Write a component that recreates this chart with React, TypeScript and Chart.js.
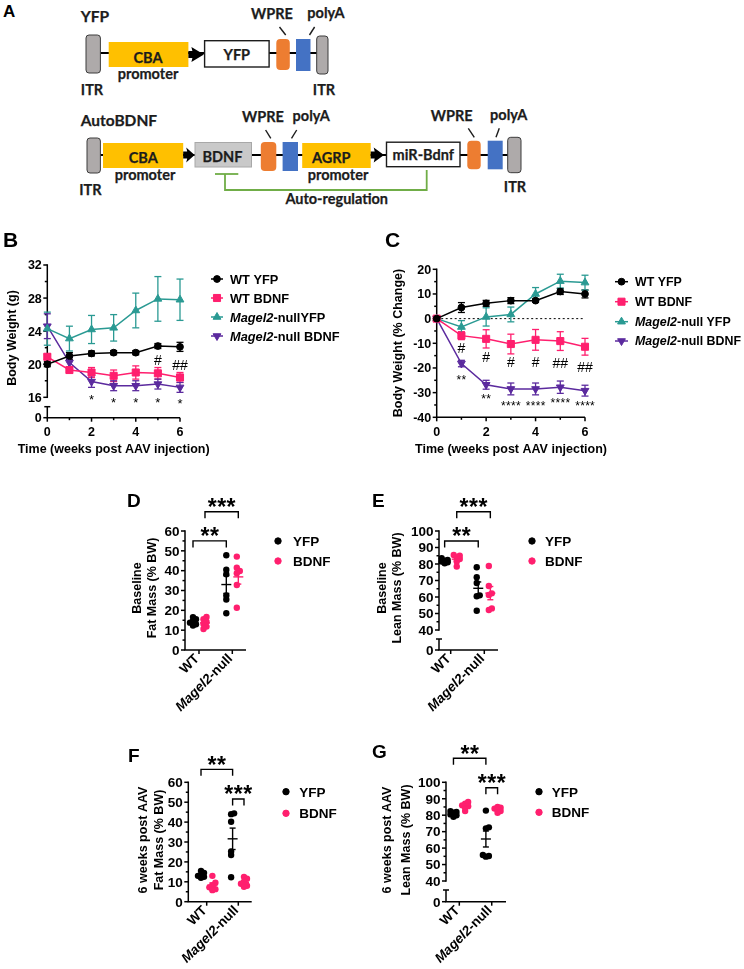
import React, { useEffect, useRef } from "react";
import { Chart, registerables } from "chart.js";
Chart.register(...registerables);

const W = 744;
const H = 969;
const SANS = '"Liberation Sans", Arial, Helvetica, sans-serif';
const LATO_F = 'Lato, "Open Sans", sans-serif';

const BLACK = "#000000";
const PINK = "#FF1F6E";
const TEAL = "#2A9A93";
const PURPLE = "#5B2A9E";

// ---------------- Panels B & C data ----------------
const weeks = [0, 1, 2, 3, 4, 5, 6];
const weekTicks = [0, 2, 4, 6];
const weekTickLabels = ["0", "2", "4", "6"];
const weekMinor = [1, 3, 5];

// Body weight (g), mean and SEM
const bwWtYfp = [20.0, 21.0, 21.3, 21.4, 21.4, 22.2, 22.1];
const bwWtYfpSem = [0.3, 0.4, 0.3, 0.25, 0.25, 0.3, 0.55];
const bwWtBdnf = [20.9, 19.3, 19.0, 18.6, 19.0, 18.9, 18.4];
const bwWtBdnfSem = [0.3, 0.3, 0.6, 0.7, 0.8, 0.7, 0.6];
const bwMgYfp = [24.3, 23.1, 24.2, 24.4, 26.5, 27.9, 27.8];
const bwMgYfpSem = [2.0, 1.5, 1.7, 1.6, 2.1, 2.7, 2.5];
const bwMgBdnf = [24.6, 20.2, 17.9, 17.4, 17.4, 17.6, 17.2];
const bwMgBdnfSem = [1.5, 0.6, 0.7, 0.6, 0.6, 0.6, 0.6];

const bwTicks = [16, 20, 24, 28, 32];
const bwTickLabels = ["16", "20", "24", "28", "32"];
const bwMinor = [18, 22, 26, 30];
const bwLowLabel = "0";

// Body weight (% change)
const pcWtYfp = [0, 4.5, 6.2, 7.3, 7.3, 11.0, 10.0];
const pcWtYfpSem = [0, 2.0, 1.2, 1.2, 0.7, 1.2, 1.6];
const pcWtBdnf = [0, -6.9, -8.2, -10.3, -8.6, -9.1, -11.4];
const pcWtBdnfSem = [0, 1.6, 3.7, 4.0, 4.2, 3.8, 3.4];
const pcMgYfp = [0, -3.4, 0.7, 1.7, 10.0, 15.2, 14.6];
const pcMgYfpSem = [0, 2.6, 3.7, 3.0, 2.6, 2.8, 3.0];
const pcMgBdnf = [0, -18.2, -26.8, -28.5, -28.5, -27.8, -29.2];
const pcMgBdnfSem = [0, 1.3, 1.8, 2.4, 2.4, 2.5, 2.2];

const pcTicks = [-40, -30, -20, -10, 0, 10, 20];
const pcTickLabels = ["-40", "-30", "-20", "-10", "0", "10", "20"];
const pcMinor = [-35, -25, -15, -5, 5, 15];

// significance marks (week, label, value level)
const bStarWeeks = [2, 3, 4, 5, 6];
const bStarLabels = ["*", "*", "*", "*", "*"];
const bStarLevels = [16.05, 15.7, 15.7, 15.7, 15.65];
const bHashWeeks = [5, 6];
const bHashLabels = ["#", "##"];
const bHashLevels = [20.5, 19.9];

const cHashWeeks = [1, 2, 3, 4, 5, 6];
const cHashLabels = ["#", "#", "#", "#", "##", "##"];
const cHashLevels = [-12.0, -15.4, -17.7, -17.7, -18.1, -19.5];
const cStarWeeks = [1, 2, 3, 4, 5, 6];
const cStarLabels = ["**", "**", "****", "****", "****", "****"];
const cStarLevels = [-23.5, -31.6, -34.1, -34.1, -33.0, -34.1];

// ---------------- Panels D–G data ----------------
const dotCats = ["WT", "Magel2-null"];
const dotLegendLabels = ["YFP", "BDNF"];

const fatBaseWtYfp = [16.6, 15.5, 14.6, 13.8, 13.0, 12.3];
const fatBaseWtBdnf = [16.7, 15.5, 14.3, 13.1, 11.8, 10.6];
const fatBaseMgYfp = [47.8, 40.5, 38.2, 27.5, 25.5, 18.5];
const fatBaseMgBdnf = [47.1, 41.5, 39.8, 38.7, 32.8, 21.3];

const leanBaseWtYfp = [83.5, 82.5, 82.0, 81.5, 81.0, 80.5];
const leanBaseWtBdnf = [85.5, 85.0, 84.0, 83.0, 81.5, 78.5];
const leanBaseMgYfp = [78.0, 72.0, 68.5, 61.0, 60.5, 51.7];
const leanBaseMgBdnf = [78.8, 66.7, 62.2, 61.2, 53.1, 52.1];

const fat6WtYfp = [15.5, 14.5, 13.5, 13.0, 12.5, 12.0];
const fat6WtBdnf = [13.0, 9.5, 8.3, 7.2, 6.3, 5.8];
const fat6MgYfp = [44.4, 44.0, 40.2, 25.2, 23.5, 12.3];
const fat6MgBdnf = [12.5, 11.5, 10.0, 9.0, 8.0, 7.5];

const lean6WtYfp = [82.5, 82.0, 81.5, 80.5, 80.0, 79.0];
const lean6WtBdnf = [88.0, 87.0, 86.0, 85.5, 84.5, 82.5];
const lean6MgYfp = [82.8, 72.6, 72.0, 55.8, 54.8, 55.2];
const lean6MgBdnf = [85.0, 84.5, 84.0, 83.5, 82.5, 81.5];

const fatTicks = [0, 10, 20, 30, 40, 50, 60];
const fatTickLabels = ["0", "10", "20", "30", "40", "50", "60"];
const fatMinor = [5, 15, 25, 35, 45, 55];
const leanTicks = [40, 50, 60, 70, 80, 90, 100];
const leanTickLabels = ["40", "50", "60", "70", "80", "90", "100"];
const leanMinor = [45, 55, 65, 75, 85, 95];
const leanLowLabel = "0";

// ---------------- drawing helpers ----------------
type Part = { t: string; i?: boolean };
const P = (s: string): Part[] => [{ t: s }];
const MAGEL = (rest: string): Part[] => [{ t: "Magel2", i: true }, { t: rest }];
const catLabelParts: Part[][] = [P(dotCats[0]), MAGEL(dotCats[1].replace("Magel2", ""))];

function fnt(size: number, italic?: boolean, bold = true) {
  return `${italic ? "italic " : ""}${bold ? "bold " : ""}${size}px ${SANS}`;
}
function seg(ctx: any, x1: number, y1: number, x2: number, y2: number) {
  ctx.beginPath();
  ctx.moveTo(x1, y1);
  ctx.lineTo(x2, y2);
  ctx.stroke();
}
function txt(ctx: any, parts: Part[] | string, x: number, y: number, size: number, o: any = {}) {
  const ps: Part[] = typeof parts === "string" ? [{ t: parts }] : parts;
  const bold = o.bold ?? true;
  ctx.save();
  ctx.translate(x, y);
  if (o.rot) ctx.rotate(o.rot);
  ctx.fillStyle = o.color ?? "#000";
  ctx.textBaseline = "alphabetic";
  ctx.textAlign = "left";
  const ls = o.ls ?? 0;
  if ("letterSpacing" in ctx) ctx.letterSpacing = `${ls}px`;
  let w = 0;
  for (const p of ps) {
    ctx.font = fnt(size, p.i, bold);
    w += ctx.measureText(p.t).width;
  }
  w -= ls;
  let cx = o.align === "left" ? 0 : o.align === "right" ? -w : -w / 2;
  const by = (o.v ?? 0.358) * size;
  for (const p of ps) {
    ctx.font = fnt(size, p.i, bold);
    ctx.fillText(p.t, cx, by);
    cx += ctx.measureText(p.t).width;
  }
  ctx.restore();
}
function drawMarker(ctx: any, style: string, x: number, y: number, r: number, rot: number, color: string) {
  ctx.save();
  ctx.fillStyle = color;
  ctx.strokeStyle = color;
  ctx.lineWidth = 1;
  ctx.beginPath();
  if (style === "circle") ctx.arc(x, y, r, 0, Math.PI * 2);
  else if (style === "rect") {
    const s = r * Math.SQRT1_2;
    ctx.rect(x - s, y - s, 2 * s, 2 * s);
  } else {
    let a = (rot * Math.PI) / 180;
    ctx.moveTo(x + Math.sin(a) * r, y - Math.cos(a) * r);
    a += (2 * Math.PI) / 3;
    ctx.lineTo(x + Math.sin(a) * r, y - Math.cos(a) * r);
    a += (2 * Math.PI) / 3;
    ctx.lineTo(x + Math.sin(a) * r, y - Math.cos(a) * r);
    ctx.closePath();
  }
  ctx.fill();
  ctx.stroke();
  ctx.restore();
}

type YAxisSpec = {
  ticks: number[];
  labels: string[];
  minor: number[];
  size: number;
  breakVal?: number;
  lowTopPx?: number;
  lowLabel?: string;
};
function drawYAxis(ctx: any, chart: any, s: YAxisSpec) {
  const { left, bottom } = chart.chartArea;
  const y = chart.scales.y;
  ctx.save();
  ctx.strokeStyle = "#000";
  ctx.lineWidth = 1.5;
  const top = y.getPixelForValue(s.ticks[s.ticks.length - 1]);
  if (s.breakVal !== undefined && s.lowTopPx !== undefined) {
    const bp = y.getPixelForValue(s.breakVal);
    seg(ctx, left, top - 0.75, left, bp + 0.75);
    seg(ctx, left, s.lowTopPx, left, bottom);
    seg(ctx, left - 3, s.lowTopPx, left + 3, s.lowTopPx);
    seg(ctx, left - 4, bottom, left, bottom);
    txt(ctx, s.lowLabel || "0", left - 5.5, bottom, s.size, { align: "right" });
  } else {
    seg(ctx, left, top - 0.75, left, bottom);
  }
  s.ticks.forEach((v, i) => {
    const p = y.getPixelForValue(v);
    seg(ctx, left - 4, p, left, p);
    txt(ctx, s.labels[i], left - 5.5, p, s.size, { align: "right" });
  });
  s.minor.forEach((v) => {
    const p = y.getPixelForValue(v);
    seg(ctx, left - 2.5, p, left, p);
  });
  ctx.restore();
}

function baseOptions(area: any, xMin: number, xMax: number, yMin: number, yMax: number) {
  return {
    animation: false,
    responsive: false,
    maintainAspectRatio: false,
    devicePixelRatio: 1,
    events: [],
    layout: { padding: { left: area.L, top: area.T, right: W - area.R, bottom: H - area.B } },
    scales: {
      x: { type: "linear", min: xMin, max: xMax, display: false },
      y: { type: "linear", min: yMin, max: yMax, display: false },
    },
    plugins: { legend: { display: false }, tooltip: { enabled: false } },
  };
}

// ---------------- line panels (B, C) ----------------
const lineStyles = [
  { color: BLACK, style: "circle", r: 3.4, rot: 0 },
  { color: PINK, style: "rect", r: 5, rot: 0 },
  { color: TEAL, style: "triangle", r: 4.5, rot: 0 },
  { color: PURPLE, style: "triangle", r: 4.5, rot: 180 },
];

function buildLinePanel(sp: any) {
  const datasets = sp.series.map((s: any, k: number) => {
    const st = lineStyles[k];
    return {
      data: weeks.map((w, i) => ({ x: w, y: s.vals[i] })),
      borderColor: st.color,
      backgroundColor: st.color,
      pointBackgroundColor: st.color,
      pointBorderColor: st.color,
      pointStyle: st.style,
      pointRadius: st.r,
      pointRotation: st.rot,
      pointBorderWidth: 1,
      borderWidth: 1.5,
      tension: 0,
      fill: false,
      clip: false,
    };
  });
  const plugin = {
    id: "decor",
    beforeDatasetsDraw(chart: any) {
      const ctx = chart.ctx;
      const xs = chart.scales.x;
      const ys = chart.scales.y;
      const { bottom, left, right } = chart.chartArea;
      if (sp.zeroLine) {
        ctx.save();
        ctx.strokeStyle = "#000";
        ctx.lineWidth = 1;
        ctx.setLineDash([2, 2.5]);
        seg(ctx, xs.getPixelForValue(weeks[0]), ys.getPixelForValue(0), xs.getPixelForValue(weeks[weeks.length - 1]), ys.getPixelForValue(0));
        ctx.restore();
      }
      drawYAxis(ctx, chart, sp.yAxis);
      ctx.save();
      ctx.strokeStyle = "#000";
      ctx.lineWidth = 1.5;
      seg(ctx, left - 0.75, bottom, right, bottom);
      weekTicks.forEach((v, i) => {
        const p = xs.getPixelForValue(v);
        seg(ctx, p, bottom, p, bottom + 4);
        txt(ctx, weekTickLabels[i], p, bottom + 14, sp.tickSize);
      });
      weekMinor.forEach((v) => {
        const p = xs.getPixelForValue(v);
        seg(ctx, p, bottom, p, bottom + 2.5);
      });
      ctx.restore();
      sp.series.forEach((s: any, k: number) => {
        ctx.save();
        ctx.strokeStyle = lineStyles[k].color;
        ctx.lineWidth = 1.3;
        weeks.forEach((w, i) => {
          const e = s.sems[i];
          if (!e) return;
          const x = xs.getPixelForValue(w);
          const y1 = ys.getPixelForValue(s.vals[i] + e);
          const y2 = ys.getPixelForValue(s.vals[i] - e);
          seg(ctx, x, y1, x, y2);
          seg(ctx, x - 3.5, y1, x + 3.5, y1);
          seg(ctx, x - 3.5, y2, x + 3.5, y2);
        });
        ctx.restore();
      });
    },
    afterDraw(chart: any) {
      const ctx = chart.ctx;
      const xs = chart.scales.x;
      const ys = chart.scales.y;
      txt(ctx, sp.xTitle.s, sp.xTitle.x, sp.xTitle.y, sp.titleSize, { v: 0.26 });
      txt(ctx, sp.yTitle.s, sp.yTitle.x, sp.yTitle.y, sp.titleSize, { v: 0.26, rot: -Math.PI / 2 });
      sp.marks.forEach((m: any) => {
        m.weeks.forEach((w: number, i: number) => {
          txt(ctx, m.labels[i], xs.getPixelForValue(w), ys.getPixelForValue(m.levels[i]), m.size, { bold: m.bold, v: m.v, ls: m.ls });
        });
      });
      const lg = sp.legend;
      lg.ys.forEach((y: number, k: number) => {
        const st = lineStyles[k];
        ctx.save();
        ctx.strokeStyle = st.color;
        ctx.lineWidth = 1.5;
        seg(ctx, lg.x1, y, lg.x2, y);
        ctx.restore();
        drawMarker(ctx, st.style, (lg.x1 + lg.x2) / 2, y, st.r, st.rot, st.color);
        txt(ctx, lg.labels[k], lg.textX, y, lg.size, { align: "left" });
      });
      txt(ctx, sp.letter.ch, sp.letter.x, sp.letter.y, sp.letter.size, { align: "left" });
    },
  };
  return {
    type: "line",
    data: { datasets },
    options: baseOptions(sp.area, sp.xMin, sp.xMax, sp.yMin, sp.yMax),
    plugins: [plugin],
  };
}

const areaB = { L: 47.3, R: 180, T: 265, B: 417.7 };
const bBreakPx = 397.3;
function buildB() {
  const top = bwTicks[bwTicks.length - 1];
  const brk = bwTicks[0];
  const pxU = (bBreakPx - areaB.T) / (top - brk);
  const yMin = brk - (areaB.B - bBreakPx) / pxU;
  return buildLinePanel({
    area: areaB,
    xMin: weeks[0],
    xMax: weeks[weeks.length - 1],
    yMin,
    yMax: top,
    series: [
      { vals: bwWtYfp, sems: bwWtYfpSem },
      { vals: bwWtBdnf, sems: bwWtBdnfSem },
      { vals: bwMgYfp, sems: bwMgYfpSem },
      { vals: bwMgBdnf, sems: bwMgBdnfSem },
    ],
    yAxis: { ticks: bwTicks, labels: bwTickLabels, minor: bwMinor, size: 12.5, breakVal: brk, lowTopPx: 406.7, lowLabel: bwLowLabel },
    tickSize: 12.5,
    titleSize: 12.5,
    xTitle: { s: "Time (weeks post AAV injection)", x: 113.6, y: 450 },
    yTitle: { s: "Body Weight (g)", x: 13, y: 338 },
    marks: [
      { weeks: bStarWeeks, labels: bStarLabels, levels: bStarLevels, size: 13, bold: false, v: 0.575, ls: 0 },
      { weeks: bHashWeeks, labels: bHashLabels, levels: bHashLevels, size: 14, bold: false, v: 0.35, ls: 0 },
    ],
    legend: {
      x1: 211, x2: 223, textX: 230, ys: [279, 298, 317, 336], size: 12.8,
      labels: [P("WT YFP"), P("WT BDNF"), MAGEL("-nullYFP"), MAGEL("-null BDNF")],
    },
    letter: { ch: "B", x: 3, y: 239.5, size: 21 },
  });
}

const areaC = { L: 436.7, R: 585, T: 269.3, B: 417.3 };
function buildC() {
  return buildLinePanel({
    area: areaC,
    xMin: weeks[0],
    xMax: weeks[weeks.length - 1],
    yMin: pcTicks[0],
    yMax: pcTicks[pcTicks.length - 1],
    zeroLine: true,
    series: [
      { vals: pcWtYfp, sems: pcWtYfpSem },
      { vals: pcWtBdnf, sems: pcWtBdnfSem },
      { vals: pcMgYfp, sems: pcMgYfpSem },
      { vals: pcMgBdnf, sems: pcMgBdnfSem },
    ],
    yAxis: { ticks: pcTicks, labels: pcTickLabels, minor: pcMinor, size: 12.5 },
    tickSize: 12.5,
    titleSize: 12.5,
    xTitle: { s: "Time (weeks post AAV injection)", x: 511, y: 450 },
    yTitle: { s: "Body Weight (% Change)", x: 399, y: 343 },
    marks: [
      { weeks: cStarWeeks, labels: cStarLabels, levels: cStarLevels, size: 12, bold: false, v: 0.575, ls: 0.3 },
      { weeks: cHashWeeks, labels: cHashLabels, levels: cHashLevels, size: 14, bold: false, v: 0.35, ls: 0 },
    ],
    legend: {
      x1: 615, x2: 628, textX: 635, ys: [281.7, 301.7, 321.7, 341], size: 12.4,
      labels: [P("WT YFP"), P("WT BDNF"), MAGEL("-null YFP"), MAGEL("-null BDNF")],
    },
    letter: { ch: "C", x: 385, y: 239.5, size: 21 },
  });
}

// ---------------- dot panels (D–G) ----------------
const GROUP_OFF = 0.18;
const groupColors = [BLACK, PINK];

function swarmOffsets(vals: number[], yPx: number, step = 3, thr = 3.2): number[] {
  const idx = vals.map((_, i) => i).sort((a, b) => vals[a] - vals[b]);
  const placed: { x: number; y: number }[] = [];
  const out = new Array(vals.length).fill(0);
  for (const i of idx) {
    const y = vals[i] * yPx;
    const cands = [0, step, -step];
    let chosen = 0;
    let best = -1;
    for (const c of cands) {
      const md = placed.length ? Math.min(...placed.map((p) => Math.hypot(p.x - c, p.y - y))) : 999;
      if (md >= thr) {
        chosen = c;
        best = 1e9;
        break;
      }
      if (md > best) {
        best = md;
        chosen = c;
      }
    }
    placed.push({ x: chosen, y });
    out[i] = chosen;
  }
  const mn = Math.min(...out);
  const mx = Math.max(...out);
  const mid = (mn + mx) / 2;
  return out.map((o) => o - mid);
}

function meanSem(v: number[]) {
  const n = v.length;
  const m = v.reduce((a, b) => a + b, 0) / n;
  const sd = Math.sqrt(v.reduce((a, b) => a + (b - m) * (b - m), 0) / (n - 1));
  return { m, sem: sd / Math.sqrt(n) };
}

function buildDotPanel(sp: any) {
  const a = sp.area;
  const xPx = (a.R - a.L) / (sp.xMax - sp.xMin);
  const yPx = (a.B - a.T) / (sp.yMax - sp.yMin);
  const datasets: any[] = [];
  sp.groups.forEach((byCat: number[][], g: number) => {
    byCat.forEach((vals: number[], c: number) => {
      const offs = swarmOffsets(vals, yPx);
      const cx = c + 1 + (g === 0 ? -GROUP_OFF : GROUP_OFF);
      datasets.push({
        type: "scatter",
        data: vals.map((v, i) => ({ x: cx + offs[i] / xPx, y: v })),
        pointRadius: 3.2,
        pointBorderWidth: 0,
        pointBackgroundColor: groupColors[g],
        backgroundColor: groupColors[g],
        borderColor: groupColors[g],
        showLine: false,
        clip: false,
      });
    });
  });
  const gx = (xs: any, c: number, g: number) => xs.getPixelForValue(c + 1 + (g === 0 ? -GROUP_OFF : GROUP_OFF));
  const plugin = {
    id: "decor",
    beforeDatasetsDraw(chart: any) {
      const ctx = chart.ctx;
      const xs = chart.scales.x;
      const { bottom, left, right } = chart.chartArea;
      drawYAxis(ctx, chart, sp.yAxis);
      ctx.save();
      ctx.strokeStyle = "#000";
      ctx.lineWidth = 1.5;
      seg(ctx, left - 0.75, bottom, right, bottom);
      dotCats.forEach((_, c) => {
        const p = xs.getPixelForValue(c + 1);
        seg(ctx, p, bottom, p, bottom + 4);
        txt(ctx, catLabelParts[c], p - 2.5, bottom + 6, sp.tickSize, { align: "right", rot: -Math.PI / 4 });
      });
      ctx.restore();
    },
    afterDraw(chart: any) {
      const ctx = chart.ctx;
      const xs = chart.scales.x;
      const ys = chart.scales.y;
      sp.groups.forEach((byCat: number[][], g: number) => {
        byCat.forEach((vals: number[], c: number) => {
          const { m, sem } = meanSem(vals);
          const x = gx(xs, c, g);
          const ym = ys.getPixelForValue(m);
          const y1 = ys.getPixelForValue(m + sem);
          const y2 = ys.getPixelForValue(m - sem);
          ctx.save();
          ctx.strokeStyle = groupColors[g];
          ctx.lineWidth = 1.4;
          seg(ctx, x - 5, ym, x + 5, ym);
          seg(ctx, x, y1, x, y2);
          seg(ctx, x - 3, y1, x + 3, y1);
          seg(ctx, x - 3, y2, x + 3, y2);
          ctx.restore();
        });
      });
      sp.brackets.forEach((b: any) => {
        const x1 = gx(xs, b.a[0], b.a[1]);
        const x2 = gx(xs, b.b[0], b.b[1]);
        const y = ys.getPixelForValue(b.y);
        ctx.save();
        ctx.strokeStyle = "#000";
        ctx.lineWidth = 1.4;
        ctx.beginPath();
        ctx.moveTo(x1, y + 6.5);
        ctx.lineTo(x1, y);
        ctx.lineTo(x2, y);
        ctx.lineTo(x2, y + 6.5);
        ctx.stroke();
        ctx.restore();
        txt(ctx, b.label, (x1 + x2) / 2, y - 10, sp.starSize, { v: 0.575, ls: 0.5 });
      });
      sp.titles.forEach((t: any) => {
        txt(ctx, t.s, t.x, sp.titleY, sp.titleSize, { v: t.v, rot: -Math.PI / 2 });
      });
      sp.legend.ys.forEach((y: number, g: number) => {
        drawMarker(ctx, "circle", sp.legend.dotX, y, 3.2, 0, groupColors[g]);
        txt(ctx, dotLegendLabels[g], sp.legend.textX, y, sp.legendSize, { align: "left" });
      });
      txt(ctx, sp.letter.ch, sp.letter.x, sp.letter.y, sp.letter.size, { align: "left" });
    },
  };
  return {
    type: "scatter",
    data: { datasets },
    options: baseOptions(a, sp.xMin, sp.xMax, sp.yMin, sp.yMax),
    plugins: [plugin],
  };
}

function brokenMin(area: any, ticks: number[], breakPx: number) {
  const top = ticks[ticks.length - 1];
  const brk = ticks[0];
  const pxU = (breakPx - area.T) / (top - brk);
  return brk - (area.B - breakPx) / pxU;
}

const common = { tickSize: 13.5, titleSize: 12.5, legendSize: 13.5, starSize: 23 };

function buildD() {
  const area = { L: 185, R: 246, T: 531, B: 650 };
  return buildDotPanel({
    ...common,
    area, xMin: 0.58, xMax: 2.411, yMin: fatTicks[0], yMax: fatTicks[fatTicks.length - 1],
    yAxis: { ticks: fatTicks, labels: fatTickLabels, minor: fatMinor, size: 13.5 },
    groups: [[fatBaseWtYfp, fatBaseMgYfp], [fatBaseWtBdnf, fatBaseMgBdnf]],
    brackets: [
      { a: [0, 0], b: [1, 0], y: 55, label: "**" },
      { a: [0, 1], b: [1, 1], y: 69.7, label: "***" },
    ],
    titles: [
      { s: "Baseline", x: 136, v: 0.36 },
      { s: "Fat Mass (% BW)", x: 152.5, v: 0.26 },
    ],
    titleY: 588,
    legend: { dotX: 278, textX: 293, ys: [541, 561] },
    letter: { ch: "D", x: 127, y: 500, size: 19 },
  });
}

function buildE() {
  const area = { L: 439, R: 498, T: 531, B: 650 };
  const breakPx = 630;
  return buildDotPanel({
    ...common,
    area, xMin: 0.652, xMax: 2.408, yMin: brokenMin(area, leanTicks, breakPx), yMax: leanTicks[leanTicks.length - 1],
    yAxis: { ticks: leanTicks, labels: leanTickLabels, minor: leanMinor, size: 13.5, breakVal: leanTicks[0], lowTopPx: 639, lowLabel: leanLowLabel },
    groups: [[leanBaseWtYfp, leanBaseMgYfp], [leanBaseWtBdnf, leanBaseMgBdnf]],
    brackets: [
      { a: [0, 0], b: [1, 0], y: 93.9, label: "**" },
      { a: [0, 1], b: [1, 1], y: 111.7, label: "***" },
    ],
    titles: [
      { s: "Baseline", x: 381.5, v: 0.36 },
      { s: "Lean Mass (% BW)", x: 397.5, v: 0.26 },
    ],
    titleY: 588,
    legend: { dotX: 532, textX: 545, ys: [541, 561] },
    letter: { ch: "E", x: 372, y: 500, size: 19 },
  });
}

function buildF() {
  const area = { L: 188.3, R: 251.7, T: 782.3, B: 901.7 };
  return buildDotPanel({
    ...common,
    area, xMin: 0.418, xMax: 2.424, yMin: fatTicks[0], yMax: fatTicks[fatTicks.length - 1],
    yAxis: { ticks: fatTicks, labels: fatTickLabels, minor: fatMinor, size: 13.5 },
    groups: [[fat6WtYfp, fat6MgYfp], [fat6WtBdnf, fat6MgBdnf]],
    brackets: [
      { a: [0, 0], b: [1, 0], y: 66.5, label: "**" },
      { a: [1, 0], b: [1, 1], y: 51.6, label: "***" },
    ],
    titles: [
      { s: "6 weeks post AAV", x: 143.5, v: 0.26 },
      { s: "Fat Mass (% BW)", x: 160, v: 0.26 },
    ],
    titleY: 840,
    legend: { dotX: 286, textX: 299.3, ys: [791.7, 813.3] },
    letter: { ch: "F", x: 128, y: 755, size: 19 },
  });
}

function buildG() {
  const area = { L: 446, R: 506, T: 782.3, B: 901.7 };
  const breakPx = 881;
  return buildDotPanel({
    ...common,
    area, xMin: 0.59, xMax: 2.44, yMin: brokenMin(area, leanTicks, breakPx), yMax: leanTicks[leanTicks.length - 1],
    yAxis: { ticks: leanTicks, labels: leanTickLabels, minor: leanMinor, size: 13.5, breakVal: leanTicks[0], lowTopPx: 890, lowLabel: leanLowLabel },
    groups: [[lean6WtYfp, lean6MgYfp], [lean6WtBdnf, lean6MgBdnf]],
    brackets: [
      { a: [0, 0], b: [1, 0], y: 114.6, label: "**" },
      { a: [1, 0], b: [1, 1], y: 96.7, label: "***" },
    ],
    titles: [
      { s: "6 weeks post AAV", x: 388, v: 0.26 },
      { s: "Lean Mass (% BW)", x: 407, v: 0.26 },
    ],
    titleY: 840,
    legend: { dotX: 539, textX: 551.7, ys: [791.7, 812.3] },
    letter: { ch: "G", x: 372, y: 751.5, size: 19 },
  });
}

function ChartLayer({ build }: { build: () => any }) {
  const ref = useRef<HTMLCanvasElement>(null);
  useEffect(() => {
    if (!ref.current) return;
    const chart = new Chart(ref.current, build());
    return () => chart.destroy();
  }, []);
  return (
    <canvas
      ref={ref}
      width={W}
      height={H}
      style={{ position: "absolute", left: 0, top: 0, width: W, height: H, pointerEvents: "none" }}
    />
  );
}

// ---------------- Panel A (vector diagram) ----------------
const YELLOW = "#FFC000";
const ORANGE = "#ED7D31";
const BLUE = "#4472C4";
const ITRGRAY = "#AEAAAA";
const GREEN = "#70AD47";

function PanelA() {
  const T = (x: number, y: number, s: string, anchor: string = "middle", size = 14.5, v = 0.358) => (
    <text x={x} y={y + size * v} textAnchor={anchor} fontFamily={LATO_F} fontWeight={700} fontSize={size} fill="#1c1c1c" stroke="#1c1c1c" strokeWidth={0.25}>
      {s}
    </text>
  );
  const itr = (x: number, y: number, w: number, h: number) => (
    <rect x={x} y={y} width={w} height={h} rx={3} fill={ITRGRAY} stroke="#3c3c3c" strokeWidth={1} />
  );
  const arrow = (x0: number, x1: number, cy: number) => (
    <polygon
      points={`${x0},${cy - 3.5} ${x0 + 4},${cy - 3.5} ${x0 + 3},${cy - 7.5} ${x1},${cy} ${x0 + 3},${cy + 7.5} ${x0 + 4},${cy + 3.5} ${x0},${cy + 3.5}`}
      fill="#000"
    />
  );
  return (
    <svg width={W} height={215} style={{ position: "absolute", left: 0, top: 0 }}>
      <text x={3} y={11.3 + 17 * 0.358} fontFamily={SANS} fontWeight={700} fontSize={17} fill="#000">A</text>
      {/* Row 1: YFP */}
      {T(80.7, 16.5, "YFP", "start", 15.5)}
      <line x1={100} y1={53} x2={317} y2={53} stroke="#000" strokeWidth={2} />
      {itr(86, 35, 14.4, 38)}
      <rect x={108.7} y={42} width={79.7} height={25} fill={YELLOW} />
      {arrow(188.4, 203.9, 54.5)}
      <rect x={204.6} y={40.7} width={64.5} height={26.3} fill="#fff" stroke="#1c1c1c" strokeWidth={1.4} />
      <rect x={276.3} y={39} width={13.5} height={31} rx={4} fill={ORANGE} />
      <rect x={296} y={39} width={14.5} height={32} fill={BLUE} />
      {itr(316.7, 36, 11.3, 38)}
      {T(148, 57.5, "CBA")}
      {T(148, 74, "promoter")}
      {T(236.8, 55, "YFP")}
      {T(92, 90, "ITR")}
      {T(324, 90, "ITR")}
      {T(272, 13.8, "WPRE")}
      {T(326, 12.8, "polyA")}
      <line x1={279.5} y1={27} x2={285.7} y2={35} stroke="#1c1c1c" strokeWidth={1.4} />
      <line x1={314.6} y1={27} x2={309.5} y2={35} stroke="#1c1c1c" strokeWidth={1.4} />

      {/* Row 2: AutoBDNF */}
      {T(80.7, 120.5, "AutoBDNF", "start", 15.5)}
      <line x1={100} y1={155} x2={508} y2={155} stroke="#000" strokeWidth={2} />
      {itr(87, 138, 13.4, 35)}
      <rect x={103} y={143} width={80.2} height={25} fill={YELLOW} />
      {arrow(183.2, 194.6, 155)}
      <rect x={195} y={142.5} width={56.5} height={24.5} fill="#C9C9C9" stroke="#A8A8A8" strokeWidth={1} />
      <rect x={260.8} y={142} width={15.5} height={29} rx={4} fill={ORANGE} />
      <rect x={282.6} y={142} width={15.4} height={29} fill={BLUE} />
      <rect x={302.2} y={143} width={68.5} height={25} fill={YELLOW} />
      {arrow(370.7, 384, 155)}
      <rect x={386.5} y={142.2} width={73.5} height={24.5} fill="#fff" stroke="#1c1c1c" strokeWidth={1.4} />
      <rect x={467.3} y={140.7} width={13.4} height={28.6} rx={4} fill={ORANGE} />
      <rect x={487.7} y={140.7} width={15} height={28.6} fill={BLUE} />
      {itr(507.7, 137.3, 13.3, 35.4)}
      {T(143.2, 158.3, "CBA")}
      {T(145, 174.5, "promoter")}
      {T(222.5, 157, "BDNF")}
      {T(331.2, 158, "AGRP")}
      {T(338, 175, "promoter")}
      {T(423.3, 154.5, "miR-Bdnf")}
      {T(262.9, 117, "WPRE")}
      {T(311.2, 115.5, "polyA")}
      {T(451.7, 116, "WPRE")}
      {T(508.7, 114.5, "polyA")}
      {T(90.4, 190, "ITR")}
      {T(515, 186.7, "ITR")}
      <line x1={265.6} y1={130} x2={270.8} y2={138.3} stroke="#1c1c1c" strokeWidth={1.4} />
      <line x1={296.7} y1={130} x2={291.5} y2={138.3} stroke="#1c1c1c" strokeWidth={1.4} />
      <line x1={468.3} y1={128.3} x2={474.3} y2={137.3} stroke="#1c1c1c" strokeWidth={1.4} />
      <line x1={499.3} y1={128.3} x2={496} y2={137.3} stroke="#1c1c1c" strokeWidth={1.4} />
      {/* auto-regulation */}
      <line x1={215} y1={174} x2={238.3} y2={174} stroke={GREEN} strokeWidth={1.8} />
      <polyline points="225,174 225,190 426.7,190 426.7,170" fill="none" stroke={GREEN} strokeWidth={1.8} />
      {T(336.7, 199.5, "Auto-regulation", "middle", 14.5, 0.3)}
    </svg>
  );
}

export default function App() {
  return (
    <div style={{ position: "absolute", left: 0, top: 0, width: W, height: H, background: "#fff", overflow: "hidden" }}>
      <PanelA />
      <ChartLayer build={buildB} />
      <ChartLayer build={buildC} />
      <ChartLayer build={buildD} />
      <ChartLayer build={buildE} />
      <ChartLayer build={buildF} />
      <ChartLayer build={buildG} />
    </div>
  );
}
